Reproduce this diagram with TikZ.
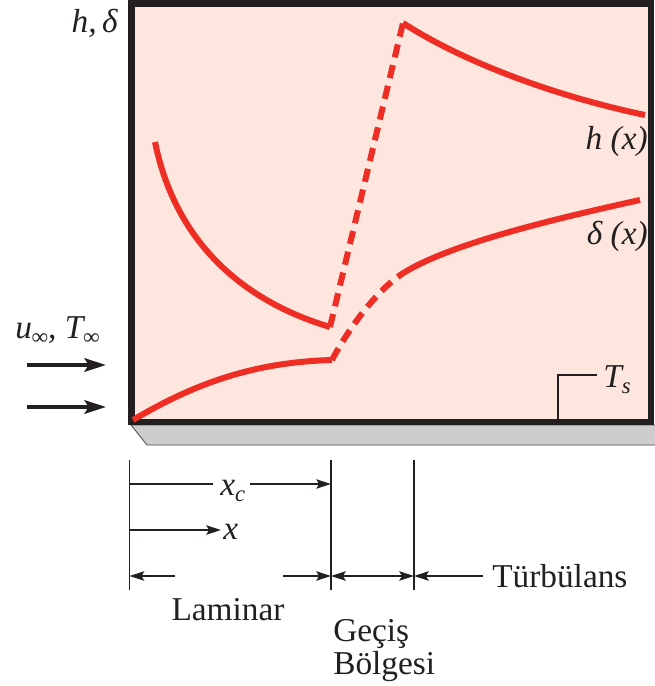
\documentclass[tikz,border=0pt]{standalone}
\usepackage{fontspec}
\setmainfont{Liberation Serif}
\usetikzlibrary{arrows.meta}
\definecolor{redc}{HTML}{EE2D24}
\definecolor{pinkbg}{HTML}{FCE6DD}
\definecolor{framec}{HTML}{231F20}
\definecolor{platec}{HTML}{CDCDCD}
\newcommand{\mysub}[1]{\raisebox{-0.4ex}{\fontsize{17}{17}\selectfont\itshape #1}}
\begin{document}
\begin{tikzpicture}[x=0.75pt,y=-0.75pt,
  font=\fontsize{25}{28}\selectfont,
  curve/.style={draw=redc, line width=4.5pt},
  trans/.style={curve, dash pattern=on 10pt off 6pt},
  dim/.style={draw=framec, line width=1.2pt},
  dimarrow/.style={dim, -{Stealth[length=11pt,width=7pt,inset=2pt]}},
  dimboth/.style={dim, {Stealth[length=11pt,width=7pt,inset=2pt]}-{Stealth[length=11pt,width=7pt,inset=2pt]}},
  flow/.style={draw=framec, line width=3pt, -{Stealth[length=16pt,width=10pt,inset=3pt]}},
  leader/.style={draw=framec, line width=0.9pt},
  lbl/.style={inner sep=0pt, text=framec}]
\useasboundingbox (0,0) rectangle (654,686);

% plate
\filldraw[fill=platec, draw=gray!60!black, line width=0.6pt]
  (131,425) -- (147,445) -- (656,445) -- (656,425) -- cycle;
% frame
\draw[fill=pinkbg, draw=framec, line width=4.8pt] (131.5,3.5) rectangle (651,422);

% boundary layer thickness delta(x)
\draw[curve] (133,420) .. controls (200,380) and (260,362) .. (332,360);
\draw[trans] (332,360) .. controls (345,335) and (375,290) .. (405,272);
\draw[curve] (405,272) .. controls (450,245) and (540,222) .. (640,200);

% heat transfer coefficient h(x)
\draw[curve] (155,142) .. controls (175,240) and (240,300) .. (330,327);
\draw[trans] (330,327) -- (403,23);
\draw[curve] (403,23) .. controls (460,60) and (550,95) .. (645,115);

% labels inside / around frame
\node[lbl, anchor=base east] (hd) at (118,32) {\itshape h,\,δ};
\node[lbl, anchor=base east] (hx) at (648,149) {\itshape h (x)};
\node[lbl, anchor=base east] (dx) at (648,244) {\itshape δ (x)};
\node[lbl, anchor=base west] (uinf) at (15,338) {\itshape u\mysub{∞}, T\mysub{∞}};

% flow arrows
\coordinate (f1s) at (27,365);
\coordinate (f1e) at (106,365);
\coordinate (f2s) at (27,407);
\coordinate (f2e) at (106,407);
\draw[flow] (f1s) -- (f1e);
\draw[flow] (f2s) -- (f2e);

% surface temperature leader
\node[lbl, anchor=base west] (ts) at (603,387) {\itshape T\mysub{s}};
\coordinate (tsfoot) at (558,420);
\coordinate (tsbend) at (558,375);
\coordinate (tsend) at (597,375);
\draw[leader] (tsfoot) -- (tsbend) -- (tsend);

% dimension lines
\coordinate (v1t) at (129.5,460);
\coordinate (v1b) at (129.5,590);
\coordinate (v2t) at (331,460);
\coordinate (v2b) at (331,590);
\coordinate (v3t) at (414,460);
\coordinate (v3b) at (414,590);
\draw[dim] (v1t) -- (v1b);
\draw[dim] (v2t) -- (v2b);
\draw[dim] (v3t) -- (v3b);

% x_c
\node[lbl, anchor=base west] (xc) at (220,495) {\itshape x\mysub{c}};
\coordinate (xcs) at (129.5,484);
\coordinate (xcm1) at (213,484);
\coordinate (xcm2) at (250,484);
\coordinate (xce) at (331,484);
\draw[dim] (xcs) -- (xcm1);
\draw[dimarrow] (xcm2) -- (xce);

% x
\node[lbl, anchor=base west] (xl) at (223,539) {\itshape x};
\coordinate (xs) at (129.5,530);
\coordinate (xe) at (221,530);
\draw[dimarrow] (xs) -- (xe);

% region arrows
\coordinate (la1) at (175,576);
\coordinate (la1e) at (129.5,576);
\coordinate (la2) at (283,576);
\coordinate (la2e) at (331,576);
\draw[dimarrow] (la1) -- (la1e);
\draw[dimarrow] (la2) -- (la2e);
\coordinate (ge1) at (331,576);
\coordinate (ge2) at (414,576);
\draw[dimboth] (ge1) -- (ge2);
\coordinate (tu1) at (483,576);
\coordinate (tu2) at (414,576);
\draw[dimarrow] (tu1) -- (tu2);

% region labels
\node[lbl, anchor=base west] (turb) at (492,587) {Türbülans};
\node[lbl, anchor=base] (lam) at (228,620) {Laminar};
\node[lbl, anchor=base west] (gec) at (333,641) {Geçiş};
\node[lbl, anchor=base west] (bol) at (333,674) {Bölgesi};
\end{tikzpicture}
\end{document}
